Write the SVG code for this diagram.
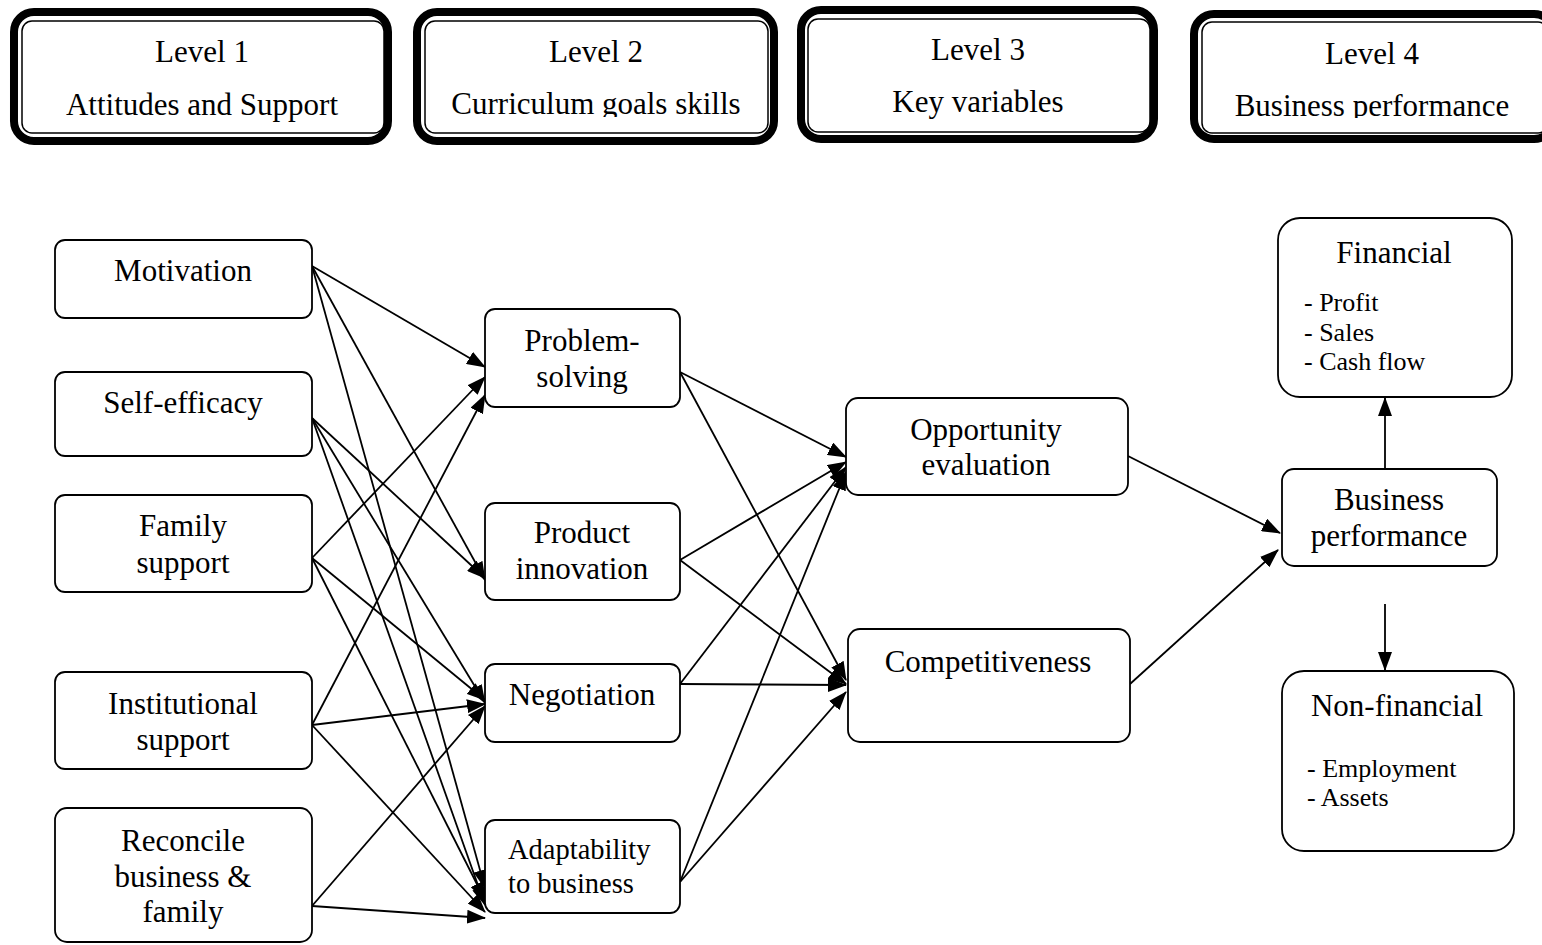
<svg xmlns="http://www.w3.org/2000/svg" width="1542" height="945" viewBox="0 0 1542 945">
<style>
.hdo{fill:#fff;stroke:#000;stroke-width:8}
.hdi{fill:none;stroke:#000;stroke-width:1.5}
.box{fill:#fff;stroke:#000;stroke-width:1.8}
.t{font-family:"Liberation Serif","Times New Roman",serif;font-size:31px;fill:#000;text-anchor:middle}
.ts{font-family:"Liberation Serif","Times New Roman",serif;font-size:28.5px;fill:#000}
.tl{font-family:"Liberation Serif","Times New Roman",serif;font-size:26px;fill:#000}
.c line{stroke:#000;stroke-width:1.8;marker-end:url(#ah)}
</style>
<defs>
<marker id="ah" markerUnits="userSpaceOnUse" markerWidth="19" markerHeight="14" refX="18" refY="7" orient="auto">
<path d="M0,0 L19,7 L0,14 z" fill="#000"/>
</marker>
<clipPath id="clip2"><rect x="400" y="0" width="400" height="117"/></clipPath>
<clipPath id="clip4"><rect x="1180" y="0" width="362" height="118"/></clipPath>
</defs>

<g id="level1">
<rect class="hdo" x="14" y="12" width="374" height="129" rx="20"/>
<rect class="hdi" x="22" y="21" width="362" height="112" rx="10"/>
<text class="t" x="202" y="62">Level 1</text>
<text class="t" x="202" y="115">Attitudes and Support</text>
</g>
<g id="level2">
<rect class="hdo" x="417" y="12" width="357" height="129" rx="20"/>
<rect class="hdi" x="425" y="21" width="343" height="112" rx="10"/>
<text class="t" x="596" y="62">Level 2</text>
<text class="t" x="596" y="114" clip-path="url(#clip2)">Curriculum goals skills</text>
</g>
<g id="level3">
<rect class="hdo" x="801" y="10" width="353" height="129" rx="20"/>
<rect class="hdi" x="808" y="19" width="342" height="113" rx="10"/>
<text class="t" x="978" y="60">Level 3</text>
<text class="t" x="978" y="112">Key variables</text>
</g>
<g id="level4">
<rect class="hdo" x="1194" y="14" width="360" height="125" rx="20"/>
<rect class="hdi" x="1202" y="22" width="346" height="111" rx="10"/>
<text class="t" x="1372" y="64">Level 4</text>
<text class="t" x="1372" y="116" clip-path="url(#clip4)">Business performance</text>
</g>

<g class="c" id="connectors">
<line x1="312" y1="266" x2="485" y2="367"/>
<line x1="312" y1="266" x2="485" y2="580"/>
<line x1="312" y1="266" x2="485" y2="888"/>
<line x1="312" y1="418" x2="485" y2="578"/>
<line x1="312" y1="418" x2="485" y2="703"/>
<line x1="312" y1="418" x2="485" y2="905"/>
<line x1="312" y1="558" x2="485" y2="377"/>
<line x1="312" y1="558" x2="485" y2="700"/>
<line x1="312" y1="558" x2="485" y2="900"/>
<line x1="312" y1="725" x2="485" y2="395"/>
<line x1="312" y1="725" x2="485" y2="704"/>
<line x1="312" y1="725" x2="485" y2="912"/>
<line x1="312" y1="906" x2="485" y2="706"/>
<line x1="312" y1="906" x2="485" y2="918"/>
<line x1="680" y1="372" x2="846" y2="457"/>
<line x1="680" y1="372" x2="846" y2="680"/>
<line x1="680" y1="560" x2="846" y2="462"/>
<line x1="680" y1="560" x2="846" y2="684"/>
<line x1="680" y1="684" x2="846" y2="685"/>
<line x1="680" y1="684" x2="846" y2="467"/>
<line x1="680" y1="882" x2="846" y2="472"/>
<line x1="680" y1="882" x2="846" y2="692"/>
<line x1="1128" y1="456" x2="1280" y2="533"/>
<line x1="1130" y1="684" x2="1278" y2="550"/>
<line x1="1385" y1="469" x2="1385" y2="398"/>
<line x1="1385" y1="604" x2="1385" y2="670"/>
</g>

<g id="motivation">
<rect class="box" x="55" y="240" width="257" height="78" rx="10"/>
<text class="t" x="183" y="281">Motivation</text>
</g>
<g id="self-efficacy">
<rect class="box" x="55" y="372" width="257" height="84" rx="10"/>
<text class="t" x="183" y="413">Self-efficacy</text>
</g>
<g id="family-support">
<rect class="box" x="55" y="495" width="257" height="97" rx="10"/>
<text class="t" x="183" y="536">Family</text>
<text class="t" x="183" y="573">support</text>
</g>
<g id="institutional-support">
<rect class="box" x="55" y="672" width="257" height="97" rx="10"/>
<text class="t" x="183" y="714">Institutional</text>
<text class="t" x="183" y="750">support</text>
</g>
<g id="reconcile">
<rect class="box" x="55" y="808" width="257" height="134" rx="12"/>
<text class="t" x="183" y="851">Reconcile</text>
<text class="t" x="183" y="887">business &amp;</text>
<text class="t" x="183" y="922">family</text>
</g>

<g id="problem-solving">
<rect class="box" x="485" y="309" width="195" height="98" rx="10"/>
<text class="t" x="582" y="351">Problem-</text>
<text class="t" x="582" y="387">solving</text>
</g>
<g id="product-innovation">
<rect class="box" x="485" y="503" width="195" height="97" rx="10"/>
<text class="t" x="582" y="543">Product</text>
<text class="t" x="582" y="579">innovation</text>
</g>
<g id="negotiation">
<rect class="box" x="485" y="664" width="195" height="78" rx="10"/>
<text class="t" x="582" y="705">Negotiation</text>
</g>
<g id="adaptability">
<rect class="box" x="485" y="820" width="195" height="93" rx="10"/>
<text class="ts" x="508" y="859">Adaptability</text>
<text class="ts" x="508" y="893">to business</text>
</g>

<g id="opportunity-evaluation">
<rect class="box" x="846" y="398" width="282" height="97" rx="12"/>
<text class="t" x="986" y="440">Opportunity</text>
<text class="t" x="986" y="475">evaluation</text>
</g>
<g id="competitiveness">
<rect class="box" x="848" y="629" width="282" height="113" rx="12"/>
<text class="t" x="988" y="672">Competitiveness</text>
</g>

<g id="financial">
<rect class="box" x="1278" y="218" width="234" height="179" rx="22"/>
<text class="t" x="1394" y="263">Financial</text>
<text class="tl" x="1304" y="311">- Profit</text>
<text class="tl" x="1304" y="341">- Sales</text>
<text class="tl" x="1304" y="370">- Cash flow</text>
</g>
<g id="business-performance">
<rect class="box" x="1282" y="469" width="215" height="97" rx="12"/>
<text class="t" x="1389" y="510">Business</text>
<text class="t" x="1389" y="546">performance</text>
</g>
<g id="non-financial">
<rect class="box" x="1282" y="671" width="232" height="180" rx="22"/>
<text class="t" x="1397" y="716">Non-financial</text>
<text class="tl" x="1307" y="777">- Employment</text>
<text class="tl" x="1307" y="806">- Assets</text>
</g>
</svg>
